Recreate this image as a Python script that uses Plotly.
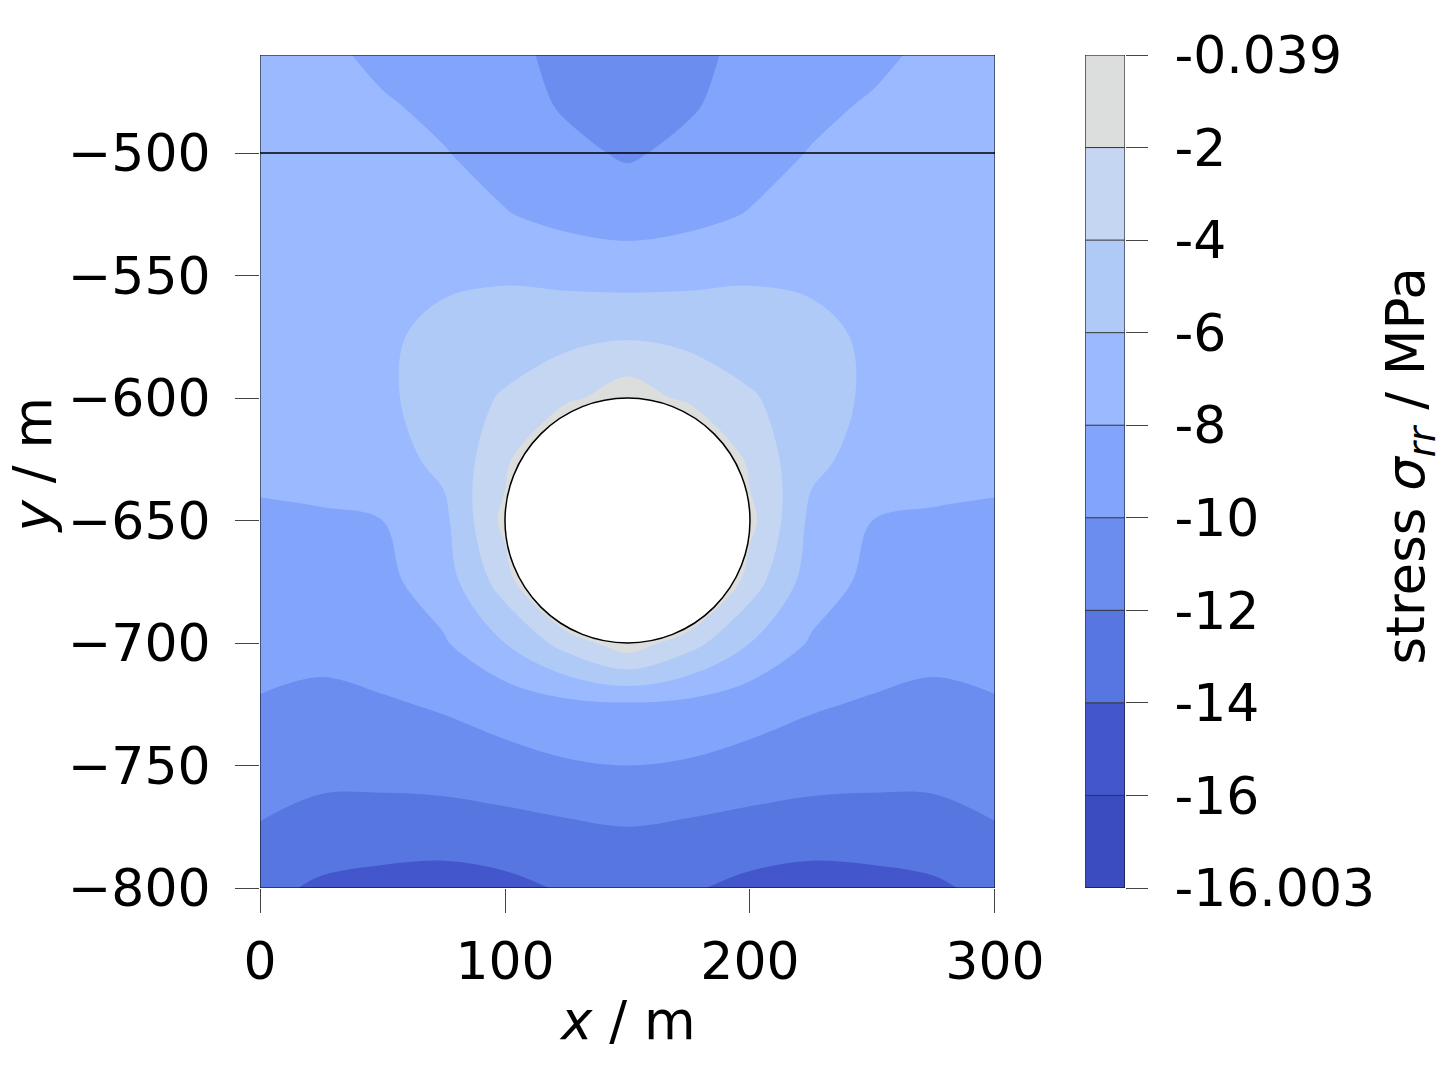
import plotly.graph_objects as go

x_vals = [0, 25, 50, 75, 100, 125, 150, 175, 200, 225, 250, 275, 300]
y_vals = [-460, -480, -500, -525, -550, -575, -600, -625, -650, -675, -700, -725, -750, -775, -800]
# half rows (x = 0..150), mirrored for the right half
half_rows = [
    [-7.0, -7.5, -8.5, -9.0, -9.5, -10.5, -11.0],
    [-7.0, -7.2, -7.8, -8.5, -9.3, -10.2, -10.8],
    [-7.0, -7.0, -7.4, -7.9, -8.8, -9.6, -10.2],
    [-6.8, -6.8, -7.0, -7.4, -7.9, -8.6, -9.0],
    [-6.7, -6.6, -6.5, -6.3, -6.2, -6.5, -6.7],
    [-6.8, -6.6, -6.3, -5.5, -5.0, -4.5, -4.2],
    [-7.0, -6.8, -6.4, -5.0, -3.8, -2.5, -0.8],
    [-7.5, -7.3, -6.8, -5.5, -2.6, 3.0, 4.0],
    [-8.3, -8.2, -8.0, -6.5, -1.4, 4.0, 4.0],
    [-8.8, -8.7, -8.5, -7.0, -3.0, 3.0, 4.0],
    [-9.5, -9.5, -9.0, -8.2, -6.0, -3.2, -0.8],
    [-10.1, -10.4, -10.2, -9.8, -9.2, -8.5, -8.2],
    [-11.0, -11.3, -11.2, -11.0, -10.6, -10.2, -10.0],
    [-12.1, -12.8, -13.0, -13.0, -12.7, -12.3, -12.0],
    [-13.5, -14.3, -14.6, -14.8, -14.5, -13.8, -13.3],
]
z_vals = [r + r[-2::-1] for r in half_rows]

band_colors = ["#3b4cc0", "#4356cb", "#5776e0", "#6b8df0", "#82a5fb",
               "#9ab9ff", "#b0caf8", "#c5d6f2", "#dcdddd"]
cb_labels = ["-16.003", "-16", "-14", "-12", "-10", "-8", "-6", "-4", "-2", "-0.039"]

n = len(band_colors)
cscale = []
for i, c in enumerate(band_colors):
    cscale.append([i / n, c])
    cscale.append([(i + 1) / n, c])

fig = go.Figure()
fig.add_trace(go.Contour(
    x=x_vals, y=y_vals, z=z_vals, colorscale=cscale, zmin=-18, zmax=0,
    contours=dict(start=-16, end=-2, size=2, coloring="fill", showlines=False),
    line=dict(width=0), showscale=False, xaxis="x", yaxis="y"))

fig.add_trace(go.Heatmap(
    x=[0], y=[i + 0.5 for i in range(n)], z=[[i] for i in range(n)],
    colorscale=cscale, zmin=0, zmax=n, showscale=False, xaxis="x2", yaxis="y2"))

shapes = [
    dict(type="circle", xref="x", yref="y", x0=100, x1=200, y0=-700, y1=-600,
         fillcolor="white", line=dict(color="black", width=1.5)),
    dict(type="line", xref="x", yref="y", x0=0, x1=300, y0=-500, y1=-500,
         line=dict(color="black", width=1.5)),
    dict(type="rect", xref="x", yref="y", x0=0, x1=300, y0=-800, y1=-460,
         line=dict(color="black", width=1)),
    dict(type="rect", xref="x2", yref="y2", x0=-0.5, x1=0.5, y0=0, y1=n,
         line=dict(color="black", width=1)),
]
for i in range(1, n):
    shapes.append(dict(type="line", xref="x2", yref="y2", x0=-0.5, x1=0.5, y0=i, y1=i,
                       line=dict(color="#333", width=1)))

font = dict(family="DejaVu Sans", size=52, color="black")
tfont = dict(family="DejaVu Sans", size=53, color="black")
annotations = [
    dict(text="<i>x</i> / m", xref="paper", yref="paper", x=0.425, y=0,
         yshift=-132, showarrow=False, font=tfont, xanchor="center", yanchor="middle"),
    dict(text="<i>y</i> / m", xref="paper", yref="paper", x=0, y=0.5,
         xshift=-228, yshift=6, showarrow=False, font=tfont, textangle=-90,
         xanchor="center", yanchor="middle"),
    dict(text="stress <i>σ<sub>rr</sub></i> / MPa", xref="paper", yref="paper", x=1, y=0.5,
         xshift=284, yshift=5, showarrow=False, font=tfont, textangle=-90,
         xanchor="center", yanchor="middle"),
]
fig.update_layout(
    width=1447, height=1080, paper_bgcolor="white", plot_bgcolor="white",
    margin=dict(l=252, r=330, t=47, b=200), showlegend=False, shapes=shapes,
    annotations=annotations, font=font,
    xaxis=dict(domain=[0, 0.8497], range=[0, 300], tickvals=[0, 100, 200, 300],
               ticks="outside", ticklen=24, showgrid=False, zeroline=False,
               ticklabelstandoff=4, automargin=False),
    yaxis=dict(range=[-800, -460], tickvals=[-500, -550, -600, -650, -700, -750, -800],
               ticks="outside", ticklen=24, showgrid=False, zeroline=False,
               ticklabelstandoff=14, automargin=False),
    xaxis2=dict(domain=[0.954, 1], range=[-0.5, 0.5], showticklabels=False,
                showgrid=False, zeroline=False, anchor="y2", automargin=False),
    yaxis2=dict(domain=[0, 1], range=[0, n], anchor="x2", side="right",
                tickvals=list(range(n + 1)), ticktext=cb_labels, ticks="outside",
                ticklen=22, showgrid=False, zeroline=False, ticklabelstandoff=16,
                automargin=False),
)
fig.write_html("out.html")
